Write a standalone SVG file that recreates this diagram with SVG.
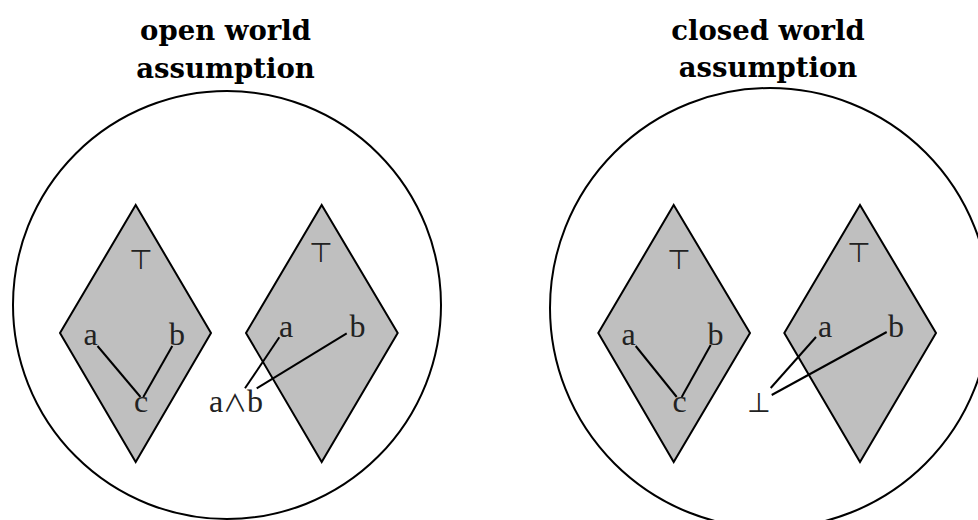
<svg xmlns="http://www.w3.org/2000/svg" width="978" height="520" viewBox="0 0 978 520">
<style>
.world{fill:#fff;stroke:#000;stroke-width:2}
.lat{fill:#bfbfbf;stroke:#000;stroke-width:2;stroke-linejoin:miter}
.edge{stroke:#000;stroke-width:2;fill:none}
.title{font-family:"DejaVu Serif",serif;font-weight:bold;font-size:27.5px;text-anchor:middle;fill:#000}
.lbl{font-family:"Liberation Serif","DejaVu Serif",serif;font-size:32px;text-anchor:middle;fill:#222}
.sym{font-family:"DejaVu Sans",sans-serif;font-size:27px;text-anchor:middle;fill:#222}
.wedge{font-family:"Noto Sans CJK SC","DejaVu Sans",sans-serif;font-size:24px}
</style>
<rect width="978" height="520" fill="#fff"/>
<g id="open-world">
<circle class="world" cx="227" cy="305" r="214"/>
<text class="title" x="225.5" y="40">open world</text>
<text class="title" x="225.5" y="78">assumption</text>
</g>
<g id="closed-world">
<circle class="world" cx="770" cy="308" r="220"/>
<text class="title" x="768" y="40">closed world</text>
<text class="title" x="768" y="77">assumption</text>
</g>
<g id="lattice-ow-1"><polygon class="lat" points="135.7,205 211,333 135.7,462 60,333"/></g>
<g id="lattice-ow-2"><polygon class="lat" points="321.7,205 397.7,333 321.7,462 246,333"/></g>
<g id="lattice-cw-1"><polygon class="lat" points="673.7,205 750,333 673.7,462 598.3,333"/></g>
<g id="lattice-cw-2"><polygon class="lat" points="860,205 936,333 860,462 784.3,333"/></g>
<g id="connectors">
<line class="edge" x1="97.5" y1="346" x2="140.5" y2="397"/>
<line class="edge" x1="172.3" y1="346" x2="143.3" y2="397"/>
<line class="edge" x1="245" y1="388.3" x2="279.3" y2="337.3"/>
<line class="edge" x1="256.7" y1="388.3" x2="346.7" y2="333.3"/>
<line class="edge" x1="635.7" y1="346" x2="676.7" y2="397"/>
<line class="edge" x1="710.7" y1="345" x2="681.7" y2="397"/>
<line class="edge" x1="770.7" y1="388" x2="816" y2="337"/>
<line class="edge" x1="771.7" y1="395" x2="886.7" y2="332"/>
</g>
<g id="labels-ow-1">
<text class="sym" x="141" y="269">⊤</text>
<text class="lbl" x="90.5" y="345">a</text>
<text class="lbl" x="177" y="345">b</text>
<text class="lbl" x="141" y="412">c</text>
</g>
<g id="labels-ow-2">
<text class="sym" x="321" y="262">⊤</text>
<text class="lbl" x="286" y="337">a</text>
<text class="lbl" x="357.5" y="337">b</text>
<text class="lbl" x="236" y="412">a<tspan class="wedge">∧</tspan>b</text>
</g>
<g id="labels-cw-1">
<text class="sym" x="679" y="269">⊤</text>
<text class="lbl" x="628.5" y="345">a</text>
<text class="lbl" x="715.5" y="345">b</text>
<text class="lbl" x="679.5" y="412">c</text>
</g>
<g id="labels-cw-2">
<text class="sym" x="859" y="262">⊤</text>
<text class="lbl" x="825" y="337">a</text>
<text class="lbl" x="896" y="337">b</text>
<text class="sym" x="759" y="412">⊥</text>
</g>
</svg>
